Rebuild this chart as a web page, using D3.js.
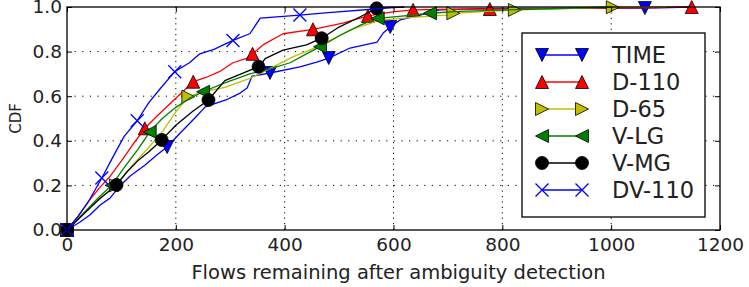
<!DOCTYPE html>
<html><head><meta charset="utf-8">
<script src="https://cdn.jsdelivr.net/npm/d3@7"></script>
<style>body{margin:0;background:#fff}svg{display:block;font-family:"DejaVu Sans",sans-serif}</style>
</head><body>
<svg id="c" width="749" height="287"></svg>
<script>
// ---- data (x = flows remaining, y = CDF) ----
const seriesNames = ["TIME", "D-110", "D-65", "V-LG", "V-MG", "DV-110"];
const xTicks = [0, 200, 400, 600, 800, 1000, 1200];
const yTicks = [0.0, 0.2, 0.4, 0.6, 0.8, 1.0];

const timeLine = [[0,0],[24,0.036],[42,0.067],[61,0.112],[79,0.143],[97,0.197],[116,0.242],[143,0.29],[165,0.336],[184,0.372],[208,0.435],[235,0.502],[254,0.552],[292,0.583],[318,0.614],[331,0.637],[340,0.69],[373,0.704],[428,0.731],[459,0.753],[481,0.771],[520,0.816],[570,0.843],[581,0.883],[594,0.91],[612,0.942],[649,0.964],[685,0.987],[760,0.993],[1062,0.995],[1150,1.0]];
const timeMarks = [[0,0],[184,0.372],[373,0.704],[481,0.771],[594,0.91],[1062,0.995]];

const d110Line = [[0,0],[20,0.06],[40,0.13],[60,0.19],[79,0.24],[100,0.31],[120,0.38],[143,0.456],[165,0.51],[195,0.58],[232,0.665],[257,0.686],[280,0.71],[305,0.75],[330,0.77],[341,0.79],[360,0.83],[397,0.88],[452,0.9],[507,0.928],[553,0.96],[599,0.978],[636,0.987],[704,0.99],[777,0.991],[1000,0.995],[1148,1.0]];
const d110Marks = [[0,0],[143,0.456],[232,0.665],[341,0.79],[452,0.9],[553,0.96],[636,0.987],[777,0.991],[1148,1.0]];

const d65Line = [[0,0],[30,0.07],[60,0.14],[90,0.2],[120,0.29],[150,0.37],[175,0.44],[200,0.53],[223,0.598],[250,0.62],[290,0.64],[336,0.68],[370,0.72],[415,0.776],[459,0.82],[520,0.897],[575,0.94],[640,0.955],[704,0.965],[710,0.972],[823,0.987],[1003,0.999],[1100,1.0]];
const d65Marks = [[0,0],[90,0.2],[223,0.598],[710,0.972],[823,0.987],[1003,0.999]];

const vlgLine = [[0,0],[20,0.05],[40,0.1],[60,0.15],[82,0.2],[105,0.28],[130,0.36],[152,0.44],[175,0.5],[200,0.55],[225,0.59],[250,0.62],[290,0.66],[336,0.7],[370,0.72],[410,0.75],[440,0.79],[465,0.822],[500,0.87],[540,0.92],[571,0.949],[620,0.96],[667,0.972],[720,0.98],[850,0.99],[1000,1.0]];
const vlgMarks = [[0,0],[82,0.2],[152,0.44],[250,0.62],[465,0.822],[571,0.949],[667,0.972]];

const vmgLine = [[0,0],[30,0.07],[60,0.14],[91,0.202],[110,0.26],[130,0.31],[150,0.35],[174,0.404],[200,0.47],[230,0.53],[260,0.583],[290,0.67],[320,0.7],[352,0.732],[365,0.77],[397,0.807],[440,0.83],[468,0.86],[500,0.91],[538,0.955],[569,0.994],[620,1.0]];
const vmgMarks = [[0,0],[91,0.202],[174,0.404],[260,0.583],[352,0.732],[468,0.86],[569,0.994]];

const dv110Line = [[0,0],[20,0.06],[40,0.13],[64,0.233],[85,0.33],[105,0.42],[129,0.49],[150,0.57],[170,0.63],[198,0.71],[225,0.75],[244,0.79],[270,0.81],[305,0.85],[336,0.88],[355,0.95],[428,0.964],[480,0.975],[560,0.99],[600,1.0]];
const dv110Marks = [[0,0],[64,0.233],[129,0.49],[198,0.71],[305,0.85],[428,0.964]];

const seriesLines = [timeLine, d110Line, d65Line, vlgLine, vmgLine, dv110Line];
const seriesMarks = [timeMarks, d110Marks, d65Marks, vlgMarks, vmgMarks, dv110Marks];
const seriesColors = ["#0000ff", "#ff0000", "#bfbf00", "#008000", "#000000", "#0000ff"];
const seriesShapes = ["down", "up", "right", "left", "circle", "x"];

// ---- layout ----
const L = 67, R = 720, T = 7, B = 230;
const svg = d3.select("#c");
const x = d3.scaleLinear().domain([0, 1200]).range([L, R]);
const y = d3.scaleLinear().domain([0, 1]).range([B, T]);

// grid
const grid = svg.append("g");
grid.selectAll(".gx").data(xTicks.slice(1, -1)).join("line")
  .attr("x1", d => x(d)).attr("x2", d => x(d)).attr("y1", T).attr("y2", B)
  .attr("stroke", "#000").attr("stroke-width", 1).attr("stroke-dasharray", "1.2,4.2");
grid.selectAll(".gy").data(yTicks.slice(1, -1)).join("line")
  .attr("x1", L).attr("x2", R).attr("y1", d => y(d)).attr("y2", d => y(d))
  .attr("stroke", "#000").attr("stroke-width", 1).attr("stroke-dasharray", "1.2,6.4");

// marker path generator (size m)
function markerPath(shape, m) {
  const h = m / 2;
  switch (shape) {
    case "up": return `M0,${-h}L${h},${h}L${-h},${h}Z`;
    case "down": return `M0,${h}L${h},${-h}L${-h},${-h}Z`;
    case "right": return `M${h},0L${-h},${h}L${-h},${-h}Z`;
    case "left": return `M${-h},0L${h},${h}L${h},${-h}Z`;
    case "circle": return d3.symbol(d3.symbolCircle, Math.PI * h * h)();
    case "x": return `M${-h},${-h}L${h},${h}M${-h},${h}L${h},${-h}`;
  }
}
function drawMarker(g, shape, color, px, py, m) {
  const p = g.append("path").attr("d", markerPath(shape, m))
    .attr("transform", `translate(${px},${py})`);
  if (shape === "x") p.attr("fill", "none").attr("stroke", color).attr("stroke-width", 1.3);
  else p.attr("fill", color).attr("stroke", "#000").attr("stroke-width", 0.8);
}

const plot = svg.append("g");
const line = d3.line().x(d => x(d[0])).y(d => y(d[1]));
seriesLines.forEach((pts, i) => {
  const g = plot.append("g");
  g.append("path").datum(pts).attr("d", line).attr("fill", "none")
    .attr("stroke", seriesColors[i]).attr("stroke-width", 1.3).attr("stroke-linejoin", "round");
  seriesMarks[i].forEach(d => drawMarker(g, seriesShapes[i], seriesColors[i], x(d[0]), y(d[1]), 13));
});

// axes (inward ticks on all sides)
const fmt = d3.format(".1f");
const ax = svg.append("g").attr("transform", `translate(0,${B})`)
  .call(d3.axisBottom(x).tickValues(xTicks).tickSize(-5).tickPadding(8).tickFormat(d3.format("d")));
const ay = svg.append("g").attr("transform", `translate(${L},0)`)
  .call(d3.axisLeft(y).tickValues(yTicks).tickSize(-5).tickPadding(5).tickFormat(fmt));
const at = svg.append("g").attr("transform", `translate(0,${T})`)
  .call(d3.axisTop(x).tickValues(xTicks).tickSize(-5).tickFormat(""));
const ar = svg.append("g").attr("transform", `translate(${R},0)`)
  .call(d3.axisRight(y).tickValues(yTicks).tickSize(-5).tickFormat(""));
[ax, ay, at, ar].forEach(a => {
  a.select(".domain").remove();
  a.selectAll("line").attr("stroke", "#000").attr("stroke-width", 1);
  a.selectAll("text").attr("font-size", 18.5).attr("font-family", "DejaVu Sans").attr("fill", "#222");
});
svg.append("rect").attr("x", L).attr("y", T).attr("width", R - L).attr("height", B - T)
  .attr("fill", "none").attr("stroke", "#000").attr("stroke-width", 1.3);

// labels
svg.append("text").attr("x", (L + R) / 2 + 5).attr("y", 279).attr("text-anchor", "middle")
  .attr("font-size", 19.5).attr("fill", "#222").text("Flows remaining after ambiguity detection");
svg.append("text").attr("transform", `translate(21,${(T + B) / 2}) rotate(-90)`)
  .attr("text-anchor", "middle").attr("font-size", 15).attr("fill", "#222").text("CDF");

// legend
const lg = svg.append("g");
lg.append("rect").attr("x", 522).attr("y", 33).attr("width", 183).attr("height", 184)
  .attr("fill", "#fff").attr("stroke", "#000").attr("stroke-width", 1.3);
seriesNames.forEach((name, i) => {
  const cy = 55 + i * 27;
  lg.append("line").attr("x1", 542).attr("x2", 582).attr("y1", cy).attr("y2", cy)
    .attr("stroke", seriesColors[i]).attr("stroke-width", 1.3);
  drawMarker(lg, seriesShapes[i], seriesColors[i], 542, cy, 13);
  drawMarker(lg, seriesShapes[i], seriesColors[i], 582, cy, 13);
  lg.append("text").attr("x", 612).attr("y", cy).attr("dy", "0.36em")
    .attr("font-size", 22.5).attr("fill", "#222").text(name);
});
</script>
</body></html>
